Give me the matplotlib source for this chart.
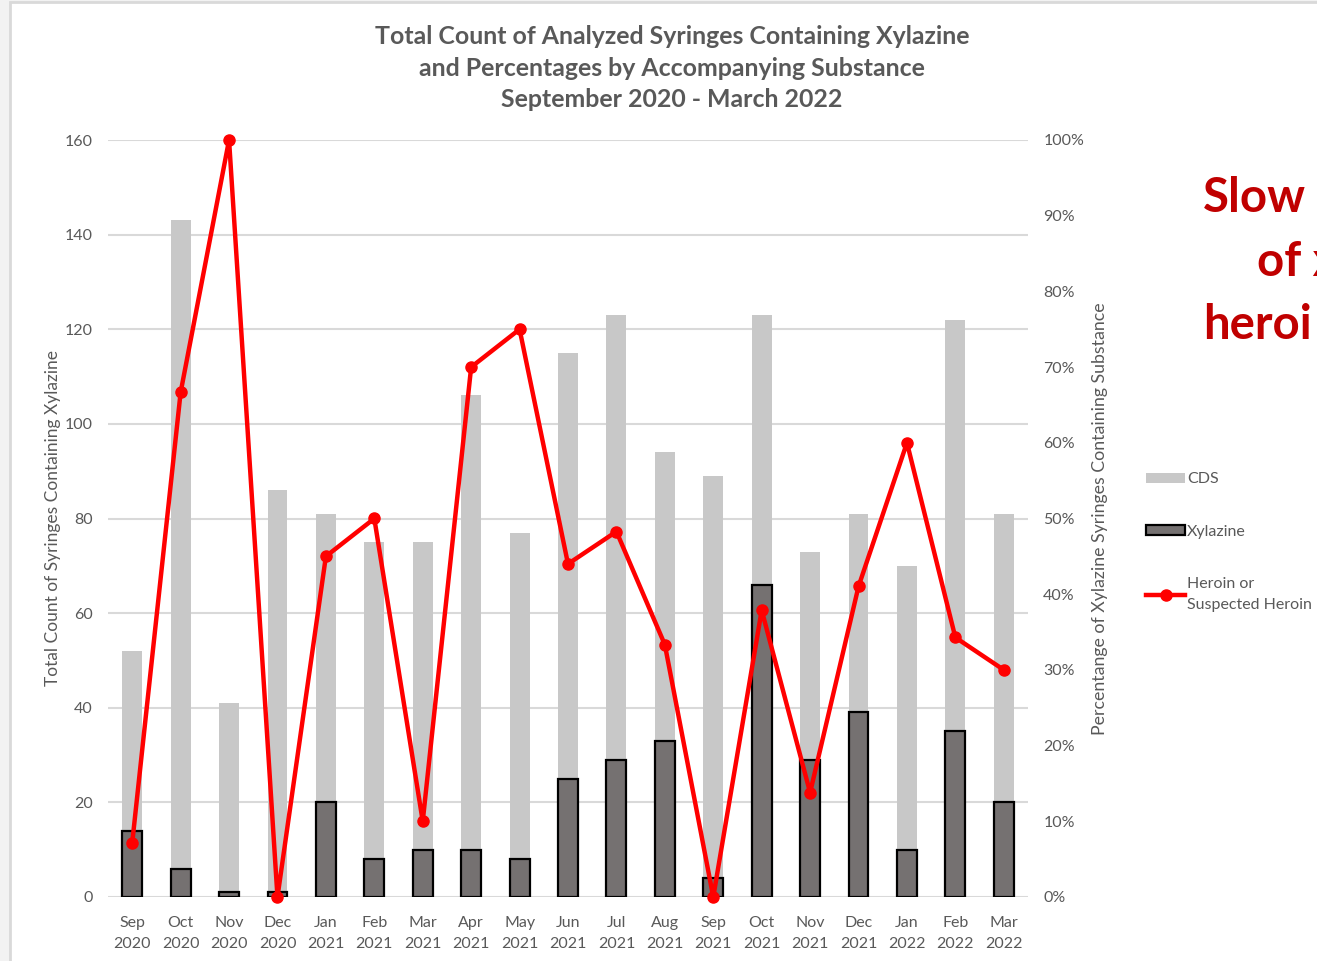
import numpy as np
import matplotlib.pyplot as plt
from matplotlib.patches import Rectangle
from matplotlib.lines import Line2D
from matplotlib.ticker import PercentFormatter

# data
months = ['Sep\n2020', 'Oct\n2020', 'Nov\n2020', 'Dec\n2020', 'Jan\n2021', 'Feb\n2021',
          'Mar\n2021', 'Apr\n2021', 'May\n2021', 'Jun\n2021', 'Jul\n2021', 'Aug\n2021',
          'Sep\n2021', 'Oct\n2021', 'Nov\n2021', 'Dec\n2021', 'Jan\n2022', 'Feb\n2022',
          'Mar\n2022']
cds = [52, 143, 41, 86, 81, 75, 75, 106, 77, 115, 123, 94, 89, 123, 73, 81, 70, 122, 81]
xylazine = [14, 6, 1, 1, 20, 8, 10, 10, 8, 25, 29, 33, 4, 66, 29, 39, 10, 35, 20]
heroin = [1, 4, 1, 0, 9, 4, 1, 7, 6, 11, 14, 11, 0, 25, 4, 16, 6, 12, 6]

pct = np.array(heroin) / np.array(xylazine)

plt.rcParams['font.family'] = ['Lato', 'DejaVu Sans']
txt = '#595959'

fig = plt.figure(figsize=(13.17, 9.61), dpi=100, facecolor='#f2f2f2')
# chart area frame
frame = Rectangle((10 / 1317, -0.1), 1.2, 1 - 2 / 961 + 0.1,
                  transform=fig.transFigure, facecolor='white',
                  edgecolor='#d9d9d9', lw=2, zorder=-10)
fig.patches.append(frame)

ax = fig.add_axes([108 / 1317, 1 - 897 / 961, 920 / 1317, 757 / 961])
ax.set_facecolor('none')
x = np.arange(len(months))
w = 0.41
ax.bar(x, cds, width=w, color='#c8c8c8', zorder=2, label='CDS')
ax.bar(x, xylazine, width=w, color='#757171', edgecolor='black', lw=1.6, zorder=3,
       label='Xylazine')
ax.set_xlim(-0.5, len(months) - 0.5)
ax.set_ylim(0, 160)
ax.set_yticks(range(0, 161, 20))
ax.grid(axis='y', color='#d9d9d9', lw=1.5, zorder=0)
ax.set_axisbelow(True)
for s in ax.spines.values():
    s.set_visible(False)
ax.set_xticks(x)
ax.set_xticklabels(months, linespacing=1.6)
ax.tick_params(length=0, labelsize=11.5, colors=txt, pad=14)
ax.tick_params(axis='y', pad=11)
ax.set_ylabel('Total Count of Syringes Containing Xylazine', fontsize=12.5, color=txt,
              labelpad=3)

ax2 = ax.twinx()
ax2.plot(x, pct, color='#ff0000', lw=3.2, marker='o', ms=8, zorder=5, clip_on=False,
         label='Heroin or\nSuspected Heroin')
ax2.set_ylim(0, 1)
ax2.set_yticks(np.arange(0, 1.01, 0.1))
ax2.yaxis.set_major_formatter(PercentFormatter(1.0, decimals=0))
ax2.tick_params(length=0, labelsize=11.5, colors=txt, pad=11)
for s in ax2.spines.values():
    s.set_visible(False)
ax2.set_ylabel('Percentange of Xylazine Syringes Containing Substance', fontsize=12.8,
               color=txt, labelpad=6)

fig.text(672 / 1317, 1 - 68 / 961,
         'Total Count of Analyzed Syringes Containing Xylazine\n'
         'and Percentages by Accompanying Substance\n'
         'September 2020 - March 2022',
         ha='center', va='center', fontsize=17.9, fontweight='bold', color=txt,
         linespacing=1.45)

# legend
handles = [Rectangle((0, 0), 1, 1, facecolor='#c8c8c8', edgecolor='none'),
           Rectangle((0, 0), 1, 1, facecolor='#757171', edgecolor='black', lw=1.6),
           Line2D([], [], color='#ff0000', lw=3.2, marker='o', ms=8)]
labels = ['CDS', 'Xylazine', 'Heroin or\nSuspected Heroin']
leg = fig.legend(handles, labels, loc='upper left', bbox_to_anchor=(1140 / 1317, 1 - 466 / 961),
                 frameon=False, fontsize=11.5, labelcolor=txt, handlelength=2.4,
                 handleheight=0.55, handletextpad=0.15, labelspacing=2.4, borderaxespad=0)
leg.get_texts()[2].set_linespacing(1.6)

# slide text cut off at the right edge
for lx, ly, word in [(1203, 198, 'Slow'), (1257, 262, 'of x'), (1203, 325, 'heroi')]:
    fig.text(lx / 1317, 1 - ly / 961, word, fontsize=34, fontweight='bold',
             color='#c00000', va='center', ha='left')

fig.savefig('out.png', dpi=100, facecolor=fig.get_facecolor())
